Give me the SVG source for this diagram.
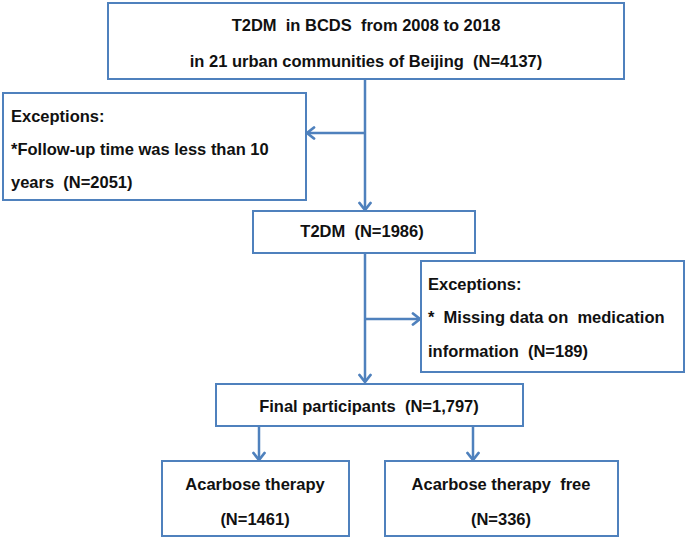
<svg xmlns="http://www.w3.org/2000/svg" width="685" height="541" viewBox="0 0 685 541">
<defs>
<style>
.box{fill:#fff;stroke:#4f81bd;stroke-width:2}
.t{font-family:"Liberation Sans",Arial,sans-serif;font-weight:bold;font-size:16.5px;fill:#111;white-space:pre}
.c{text-anchor:middle}
.ln{fill:none;stroke:#4f81bd;stroke-width:2.5}
</style>
<marker id="ah" markerWidth="14" markerHeight="14" refX="10" refY="7" orient="auto" markerUnits="userSpaceOnUse">
<path d="M3,1.5 L10,7 L3,12.5" fill="none" stroke="#4f81bd" stroke-width="2.8" stroke-linecap="round" stroke-linejoin="round"/>
</marker>
</defs>
<rect width="685" height="541" fill="#fff"/>
<g id="connectors">
<line class="ln" x1="365" y1="79" x2="365" y2="210" marker-end="url(#ah)"/>
<line class="ln" x1="365" y1="133" x2="307" y2="133" marker-end="url(#ah)"/>
<line class="ln" x1="365" y1="253" x2="365" y2="382" marker-end="url(#ah)"/>
<line class="ln" x1="365" y1="319" x2="420" y2="319" marker-end="url(#ah)"/>
<line class="ln" x1="259" y1="426" x2="259" y2="460" marker-end="url(#ah)"/>
<line class="ln" x1="473" y1="426" x2="473" y2="460" marker-end="url(#ah)"/>
</g>
<g id="n1">
<rect class="box" x="108" y="3" width="516" height="76"/>
<text class="t c" x="366" y="31" xml:space="preserve">T2DM  in BCDS  from 2008 to 2018</text>
<text class="t c" x="366" y="67" xml:space="preserve">in 21 urban communities of Beijing  (N=4137)</text>
</g>
<g id="n2">
<rect class="box" x="3" y="93" width="303" height="107"/>
<text class="t" x="11" y="122">Exceptions:</text>
<text class="t" x="11" y="155">*Follow-up time was less than 10</text>
<text class="t" x="11" y="188" xml:space="preserve">years  (N=2051)</text>
</g>
<g id="n3">
<rect class="box" x="253" y="211" width="222" height="42"/>
<text class="t c" x="362" y="237" xml:space="preserve">T2DM  (N=1986)</text>
</g>
<g id="n4">
<rect class="box" x="421" y="261" width="263" height="111"/>
<text class="t" x="428" y="290">Exceptions:</text>
<text class="t" x="428" y="323" xml:space="preserve">*  Missing data on  medication</text>
<text class="t" x="428" y="357" xml:space="preserve">information  (N=189)</text>
</g>
<g id="n5">
<rect class="box" x="216" y="384" width="307" height="42"/>
<text class="t c" x="369" y="412" xml:space="preserve">Final participants  (N=1,797)</text>
</g>
<g id="n6">
<rect class="box" x="162" y="461" width="187" height="75"/>
<text class="t c" x="255" y="490">Acarbose therapy</text>
<text class="t c" x="255" y="525">(N=1461)</text>
</g>
<g id="n7">
<rect class="box" x="385" y="461" width="233" height="75"/>
<text class="t c" x="501" y="490" xml:space="preserve">Acarbose therapy  free</text>
<text class="t c" x="501" y="525">(N=336)</text>
</g>
</svg>
